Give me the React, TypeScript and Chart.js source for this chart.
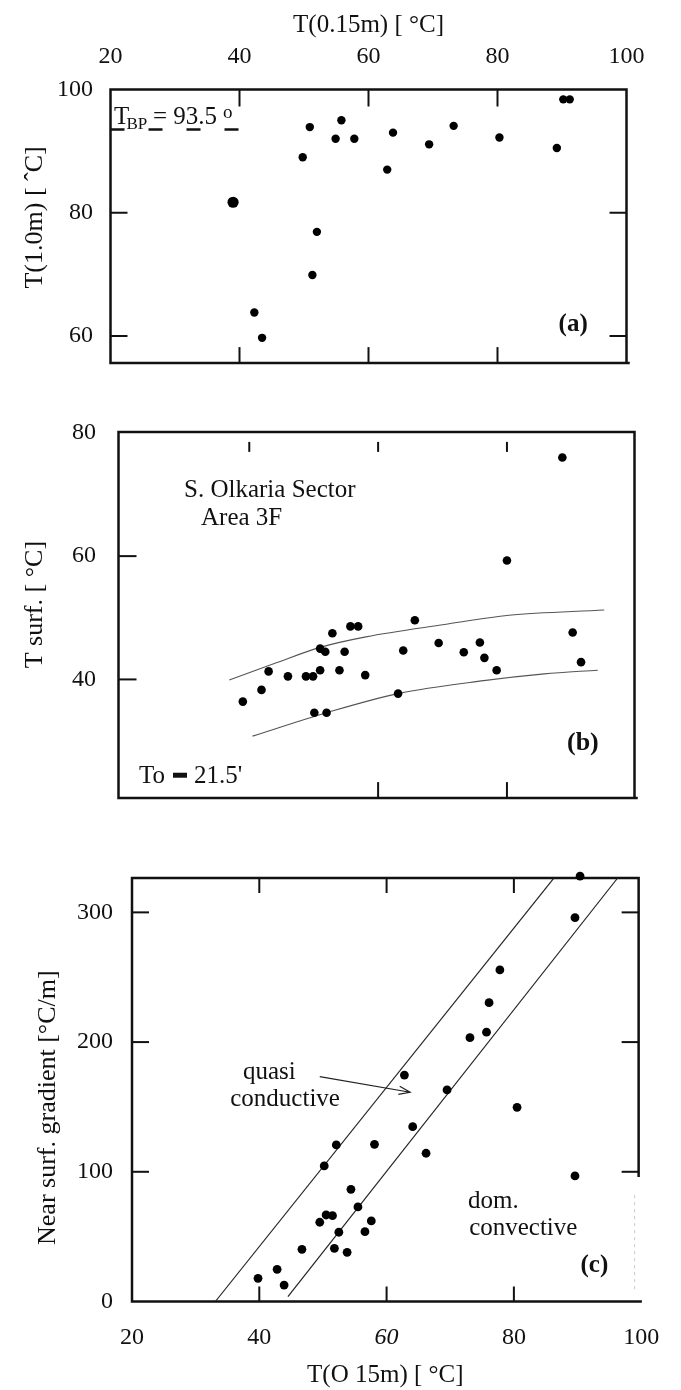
import React, { useEffect, useRef } from 'react';
import { Chart, registerables } from 'chart.js';

Chart.register(...registerables);

const FONT = '"Liberation Serif", "Times New Roman", serif';
const INK = '#111';

// ---------------- data ----------------
// shared tick values
const X_TICKS = [20, 40, 60, 80, 100];
const X_INNER_TICKS = [40, 60, 80];

// (a) T(1.0m) vs T(0.15m)
const A_X = [90.2, 91.2, 50.9, 55.8, 54.9, 57.8, 63.8, 62.9, 69.4, 73.2, 80.3, 89.2, 49.8, 39.0, 52.0, 51.3, 42.3, 43.5];
const A_Y = [98.4, 98.4, 93.9, 95.0, 92.0, 92.0, 93.0, 87.0, 91.1, 94.1, 92.2, 90.5, 89.0, 81.7, 76.9, 69.9, 63.8, 59.7];
const A_BIG_POINT = 13;
const A_Y_TICKS = [60, 80, 100];
const T_BP = 93.5;
const A_BP_LINE_X = [20, 40.3];

// (b) T surf vs T(0.15m)
const B_X = [88.6, 80.0, 65.7, 52.9, 55.7, 56.9, 51.0, 51.8, 54.8, 63.9, 69.4, 73.3, 75.8, 76.5, 78.4, 90.2, 91.5, 43.0, 46.0, 48.8, 49.9, 51.0, 54.0, 58.0, 39.0, 41.9, 63.1, 50.1, 52.0];
const B_Y = [76.0, 59.3, 49.6, 47.5, 48.6, 48.6, 45.0, 44.5, 44.5, 44.7, 45.9, 44.4, 46.0, 43.5, 41.5, 47.6, 42.8, 41.3, 40.5, 40.5, 40.5, 41.5, 41.5, 40.7, 36.4, 38.3, 37.7, 34.6, 34.6];
const B_UPPER_X = [36.9, 44.2, 51.0, 58.1, 70.3, 80.3, 95.1];
const B_UPPER_Y = [39.9, 42.7, 45.2, 46.9, 48.9, 50.4, 51.25];
const B_LOWER_X = [40.5, 52.0, 63.1, 76.4, 85.8, 94.1];
const B_LOWER_Y = [30.8, 34.6, 37.7, 39.8, 40.9, 41.5];
const B_Y_TICKS = [40, 60, 80];

// (c) near surface gradient vs T(0.15m)
const C_X = [90.4, 89.6, 77.8, 76.1, 75.7, 73.1, 62.8, 69.5, 80.5, 64.1, 66.2, 52.1, 58.1, 50.2, 89.6, 54.4, 55.5, 50.5, 51.5, 49.5, 57.6, 52.5, 56.6, 46.7, 51.8, 53.8, 39.8, 42.8, 43.9];
const C_Y = [328, 295.9, 255.6, 230.4, 207.6, 203.4, 174.6, 163.1, 149.7, 134.8, 114.3, 120.7, 121.2, 104.5, 96.8, 86.5, 72.9, 66.7, 66.2, 61.1, 62.1, 53.4, 53.8, 40.2, 41.0, 37.9, 17.9, 24.8, 12.7];
const C_LINE1_X = [33.1, 86.25];
const C_LINE1_Y = [0, 326.3];
const C_LINE2_X = [44.5, 96.3];
const C_LINE2_Y = [3.7, 326.5];
const C_Y_TICKS = [0, 100, 200, 300];

// ---------------- helpers ----------------
const pts = (xs: number[], ys: number[]) => xs.map((x, i) => ({ x, y: ys[i] }));

type TickSpec = { side: 'top' | 'bottom' | 'left' | 'right'; values: number[]; len: number; gap?: number };
type TextSpec = { text: string; x: number; y: number; size: number; bold?: boolean; align?: CanvasTextAlign };
type Deco = {
  ticks: TickSpec[];
  texts: TextSpec[];
  rects?: { x: number; y: number; w: number; h: number }[];
  arrows?: { x1: number; y1: number; x2: number; y2: number }[];
  yTitle: { text: string; dx: number; y: number; size: number };
  rightSolidTo?: number;
};

function decoPlugin(id: string, d: Deco) {
  return {
    id,
    beforeDatasetsDraw(chart: any) {
      const { ctx, chartArea: a, scales } = chart;
      const xs = scales.x;
      const ys = scales.y;
      ctx.save();
      ctx.strokeStyle = INK;
      ctx.lineWidth = 2.5;
      ctx.lineCap = 'square';
      ctx.lineJoin = 'miter';
      ctx.beginPath();
      ctx.moveTo(a.left, a.bottom);
      ctx.lineTo(a.left, a.top);
      ctx.lineTo(a.right, a.top);
      const rEnd = d.rightSolidTo != null ? ys.getPixelForValue(d.rightSolidTo) : a.bottom;
      ctx.lineTo(a.right, rEnd);
      ctx.moveTo(a.left, a.bottom);
      ctx.lineTo(a.right + 2, a.bottom);
      ctx.stroke();
      if (d.rightSolidTo != null) {
        ctx.save();
        ctx.strokeStyle = '#c8c8c8';
        ctx.lineWidth = 1;
        ctx.setLineDash([2, 5]);
        ctx.beginPath();
        ctx.moveTo(a.right - 4, rEnd + 20);
        ctx.lineTo(a.right - 4, a.bottom - 8);
        ctx.stroke();
        ctx.restore();
      }
      ctx.lineWidth = 2;
      ctx.lineCap = 'butt';
      for (const t of d.ticks) {
        const g = t.gap || 0;
        for (const v of t.values) {
          ctx.beginPath();
          if (t.side === 'top' || t.side === 'bottom') {
            const x = xs.getPixelForValue(v);
            const y0 = t.side === 'top' ? a.top + g : a.bottom - g;
            const y1 = t.side === 'top' ? y0 + t.len : y0 - t.len;
            ctx.moveTo(x, y0);
            ctx.lineTo(x, y1);
          } else {
            const y = ys.getPixelForValue(v);
            const x0 = t.side === 'left' ? a.left + g : a.right - g;
            const x1 = t.side === 'left' ? x0 + t.len : x0 - t.len;
            ctx.moveTo(x0, y);
            ctx.lineTo(x1, y);
          }
          ctx.stroke();
        }
      }
      ctx.restore();
    },
    afterDatasetsDraw(chart: any) {
      const { ctx, chartArea: a, scales } = chart;
      const xs = scales.x;
      const ys = scales.y;
      ctx.save();
      ctx.fillStyle = INK;
      ctx.textBaseline = 'alphabetic';
      for (const t of d.texts) {
        ctx.font = `${t.bold ? 'bold ' : ''}${t.size}px ${FONT}`;
        ctx.textAlign = t.align || 'left';
        ctx.fillText(t.text, xs.getPixelForValue(t.x), ys.getPixelForValue(t.y));
      }
      for (const r of d.rects || []) {
        const x = xs.getPixelForValue(r.x);
        const y = ys.getPixelForValue(r.y);
        ctx.fillRect(x, y - r.h / 2, r.w, r.h);
      }
      ctx.strokeStyle = '#222';
      ctx.lineWidth = 1.2;
      for (const ar of d.arrows || []) {
        const x1 = xs.getPixelForValue(ar.x1);
        const y1 = ys.getPixelForValue(ar.y1);
        const x2 = xs.getPixelForValue(ar.x2);
        const y2 = ys.getPixelForValue(ar.y2);
        const ang = Math.atan2(y2 - y1, x2 - x1);
        ctx.beginPath();
        ctx.moveTo(x1, y1);
        ctx.lineTo(x2, y2);
        ctx.moveTo(x2 - 12 * Math.cos(ang - 0.35), y2 - 12 * Math.sin(ang - 0.35));
        ctx.lineTo(x2, y2);
        ctx.lineTo(x2 - 12 * Math.cos(ang + 0.35), y2 - 12 * Math.sin(ang + 0.35));
        ctx.stroke();
      }
      const yt = d.yTitle;
      ctx.font = `${yt.size}px ${FONT}`;
      ctx.textAlign = 'left';
      ctx.textBaseline = 'middle';
      ctx.translate(a.left + yt.dx, ys.getPixelForValue(yt.y));
      ctx.rotate(-Math.PI / 2);
      ctx.fillText(yt.text, 0, 0);
      ctx.restore();
    },
  };
}

const tickFont = { family: FONT, size: 24 };
const noGrid = { display: false, drawTicks: false };
const noBorder = { display: false };
const setTicks = (vals: number[]) => (s: any) => {
  s.ticks = vals.map((v) => ({ value: v }));
};

const scatterSet = (xs: number[], ys: number[], extra: any = {}) => ({
  data: pts(xs, ys),
  backgroundColor: '#000',
  borderColor: '#000',
  borderWidth: 0,
  pointRadius: 4.3,
  pointHoverRadius: 4.3,
  clip: false,
  ...extra,
});

const lineSet = (xs: number[], ys: number[], extra: any = {}) => ({
  data: pts(xs, ys),
  showLine: true,
  pointRadius: 0,
  pointHoverRadius: 0,
  borderColor: '#333',
  borderWidth: 1.2,
  fill: false,
  clip: false,
  ...extra,
});

const common = {
  responsive: false,
  animation: false as const,
  events: [] as any[],
  plugins: { legend: { display: false }, tooltip: { enabled: false } },
};

// ---------------- panels ----------------
function configA(): any {
  return {
    type: 'scatter',
    data: {
      datasets: [
        scatterSet(A_X, A_Y, { pointRadius: (c: any) => (c.dataIndex === A_BIG_POINT ? 5.6 : 4.2) }),
        lineSet(A_BP_LINE_X, A_BP_LINE_X.map(() => T_BP), { borderColor: INK, borderWidth: 2.5, borderDash: [14, 24] }),
      ],
    },
    options: {
      ...common,
      layout: { padding: { top: 0, left: 0, right: 54.5, bottom: 16 } },
      scales: {
        x: {
          type: 'linear', position: 'top', min: 20, max: 100,
          grid: noGrid, border: noBorder,
          afterBuildTicks: setTicks(X_TICKS),
          afterFit: (s: any) => { s.height = 89.5; },
          ticks: { font: tickFont, color: INK, padding: 18, autoSkip: false, maxRotation: 0, minRotation: 0 },
          title: { display: true, text: 'T(0.15m) [ °C]', font: { family: FONT, size: 25 }, color: INK, padding: { top: 10, bottom: 0 } },
        },
        y: {
          type: 'linear', min: 55.6, max: 100,
          grid: noGrid, border: noBorder,
          afterBuildTicks: setTicks(A_Y_TICKS),
          afterFit: (s: any) => { s.width = 110.5; },
          ticks: { font: tickFont, color: INK, padding: 17.5 },
        },
      },
    },
    plugins: [decoPlugin('decoA', {
      ticks: [
        { side: 'top', values: X_INNER_TICKS, len: 17 },
        { side: 'bottom', values: X_INNER_TICKS, len: 16 },
        { side: 'left', values: [60, 80], len: 17 },
        { side: 'right', values: [60, 80], len: 17 },
      ],
      texts: [
        { text: 'T', x: 20.54, y: 94.35, size: 25 },
        { text: 'BP', x: 22.48, y: 93.64, size: 17 },
        { text: '= 93.5', x: 26.59, y: 94.35, size: 25 },
        { text: 'o', x: 37.44, y: 95.32, size: 19 },
        { text: '(a)', x: 89.47, y: 60.81, size: 25, bold: true },
      ],
      yTitle: { text: 'T(1.0m) [ ˆC]', dx: -75.5, y: 67.7, size: 26 },
    })],
  };
}

function configB(): any {
  return {
    type: 'scatter',
    data: {
      datasets: [
        scatterSet(B_X, B_Y),
        lineSet(B_UPPER_X, B_UPPER_Y, { cubicInterpolationMode: 'monotone', borderColor: '#555', borderWidth: 1.1 }),
        lineSet(B_LOWER_X, B_LOWER_Y, { cubicInterpolationMode: 'monotone', borderColor: '#555', borderWidth: 1.1 }),
      ],
    },
    options: {
      ...common,
      layout: { padding: { top: 32, left: 0, right: 46.5, bottom: 16 } },
      scales: {
        x: { type: 'linear', display: false, min: 19.7, max: 99.8 },
        y: {
          type: 'linear', min: 20.75, max: 80.15,
          grid: noGrid, border: noBorder,
          afterBuildTicks: setTicks(B_Y_TICKS),
          afterFit: (s: any) => { s.width = 118.5; },
          ticks: { font: tickFont, color: INK, padding: 22.5 },
        },
      },
    },
    plugins: [decoPlugin('decoB', {
      ticks: [
        { side: 'top', values: X_INNER_TICKS, len: 10, gap: 10 },
        { side: 'bottom', values: [60, 80], len: 16 },
        { side: 'left', values: [40, 60], len: 18 },
      ],
      texts: [
        { text: 'S. Olkaria Sector', x: 29.87, y: 69.58, size: 25 },
        { text: 'Area 3F', x: 32.51, y: 65.04, size: 25 },
        { text: 'To', x: 22.88, y: 23.17, size: 25 },
        { text: '21.5\'', x: 31.42, y: 23.17, size: 25 },
        { text: '(b)', x: 89.32, y: 28.63, size: 26, bold: true },
      ],
      rects: [{ x: 28.16, y: 24.46, w: 14, h: 5 }],
      yTitle: { text: 'T surf. [ °C]', dx: -83.5, y: 41.8, size: 26 },
    })],
  };
}

function configC(): any {
  return {
    type: 'scatter',
    data: {
      datasets: [
        scatterSet(C_X, C_Y, { pointRadius: 4.4 }),
        lineSet(C_LINE1_X, C_LINE1_Y, { borderColor: '#222', borderWidth: 1.2 }),
        lineSet(C_LINE2_X, C_LINE2_Y, { borderColor: '#222', borderWidth: 1.2 }),
      ],
    },
    options: {
      ...common,
      layout: { padding: { top: 43, left: 0, right: 35, bottom: 0 } },
      scales: {
        x: {
          type: 'linear', position: 'bottom', min: 20, max: 99.6,
          grid: noGrid, border: noBorder,
          afterBuildTicks: setTicks(X_TICKS),
          afterFit: (s: any) => { s.height = 88.5; },
          ticks: {
            font: (c: any) => ({ family: FONT, size: 24, style: c.tick && c.tick.value === 60 ? 'italic' : 'normal' }),
            color: INK, padding: 22, autoSkip: false, maxRotation: 0, minRotation: 0,
          },
          title: { display: true, text: 'T(O 15m) [ °C]', font: { family: FONT, size: 25 }, color: INK, padding: { top: 0, bottom: 0 } },
        },
        y: {
          type: 'linear', min: 0, max: 326.5,
          grid: noGrid, border: noBorder,
          afterBuildTicks: setTicks(C_Y_TICKS),
          afterFit: (s: any) => { s.width = 132; },
          ticks: { font: tickFont, color: INK, padding: 19 },
        },
      },
    },
    plugins: [decoPlugin('decoC', {
      ticks: [
        { side: 'top', values: X_INNER_TICKS, len: 15 },
        { side: 'bottom', values: X_INNER_TICKS, len: 15 },
        { side: 'left', values: [100, 200, 300], len: 17 },
        { side: 'right', values: [100, 200, 300], len: 17 },
      ],
      texts: [
        { text: 'quasi', x: 37.44, y: 171.55, size: 25 },
        { text: 'conductive', x: 35.44, y: 150.73, size: 25 },
        { text: 'dom.', x: 72.81, y: 72.09, size: 25 },
        { text: 'convective', x: 72.97, y: 51.27, size: 25 },
        { text: '(c)', x: 90.47, y: 22.74, size: 25, bold: true },
      ],
      arrows: [{ x1: 49.5, y1: 173.3, x2: 63.7, y2: 161.3 }],
      yTitle: { text: 'Near surf. gradient [°C/m]', dx: -84, y: 43.6, size: 26 },
      rightSolidTo: 97,
    })],
  };
}

function Panel({ top, height, make }: { top: number; height: number; make: () => any }) {
  const ref = useRef<HTMLCanvasElement | null>(null);
  useEffect(() => {
    if (!ref.current) return;
    const chart = new Chart(ref.current, make());
    return () => chart.destroy();
  }, [make]);
  return (
    <canvas
      ref={ref}
      width={681}
      height={height}
      style={{ position: 'absolute', left: 0, top, width: 681, height, display: 'block' }}
    />
  );
}

export default function App() {
  return (
    <div style={{ position: 'absolute', left: 0, top: 0, width: 681, height: 1390, background: '#fff', overflow: 'hidden' }}>
      <Panel top={0} height={395} make={configA} />
      <Panel top={395} height={440} make={configB} />
      <Panel top={835} height={555} make={configC} />
    </div>
  );
}
